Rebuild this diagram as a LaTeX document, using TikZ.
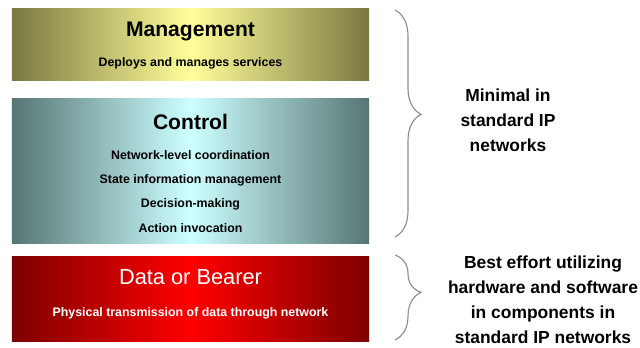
\documentclass[tikz,border=0pt]{standalone}
\usepackage{fontspec}
\setmainfont{Liberation Sans}
\usetikzlibrary{decorations.pathreplacing}

\definecolor{oliveedge}{RGB}{122,120,66}
\definecolor{olivemid}{RGB}{255,255,153}
\definecolor{tealedge}{RGB}{86,118,116}
\definecolor{tealmid}{RGB}{205,255,255}
\definecolor{rededge}{RGB}{125,0,0}
\definecolor{redmid}{RGB}{255,0,0}
\definecolor{bracegray}{RGB}{140,140,140}

\tikzset{
  layer/.style={minimum width=8.925cm,inner sep=0pt},
  title/.style={font=\fontsize{15}{18}\selectfont\bfseries},
  item/.style={font=\fontsize{8.8}{10}\selectfont\bfseries,text height=1.6ex,text depth=0.4ex},
  note/.style={align=center,font=\fontsize{12.4}{17.8}\selectfont\bfseries},
  layerbrace/.style={bracegray,line width=0.8pt,decorate,decoration={brace,amplitude=0.65cm,aspect=#1}}
}

\begin{document}
\begin{tikzpicture}[x=0.025cm,y=-0.025cm]
        \useasboundingbox (0,0) rectangle (640,348);
        % management layer
        \node[layer,minimum height=1.775cm,left color=oliveedge,right color=oliveedge,middle color=olivemid] (mgmt) at (190.5,44.5) {};
        \node[title] (mgmttitle) at (190.5,31) {Management};
        \node[item] (deploy) at (190.5,62) {Deploys and manages services};
        % control layer
        \node[layer,minimum height=3.6cm,left color=tealedge,right color=tealedge,middle color=tealmid] (ctrl) at (190.5,171) {};
        \node[title] (ctrltitle) at (190.5,122) {Control};
        \node[item] (coord) at (190.5,155) {Network-level coordination};
        \node[item] (state) at (190.5,179) {State information management};
        \node[item] (decide) at (190.5,203) {Decision-making};
        \node[item] (action) at (190.5,228) {Action invocation};
        % data layer
        \node[layer,minimum height=2.1cm,left color=rededge,right color=rededge,middle color=redmid] (data) at (190.5,299) {};
        \node[title,white,font=\fontsize{15.5}{18}\selectfont] (datatitle) at (190.5,277) {Data or Bearer};
        \node[item,white] (phys) at (190.5,312) {Physical transmission of data through network};
        % braces and notes
        \coordinate (topa) at (395,10);
        \coordinate (bota) at (395,237);
        \coordinate (topb) at (395,255);
        \coordinate (botb) at (395,340);
        \draw[layerbrace=0.46] (topa) -- (bota);
        \draw[layerbrace=0.44] (topb) -- (botb);
        \node[note] (minimal) at (508,120) {Minimal in\\standard IP\\networks};
        \node[note] (besteffort) at (543,300) {Best effort utilizing\\hardware and software\\in components in\\standard IP networks};
    \end{tikzpicture}
\end{document}
